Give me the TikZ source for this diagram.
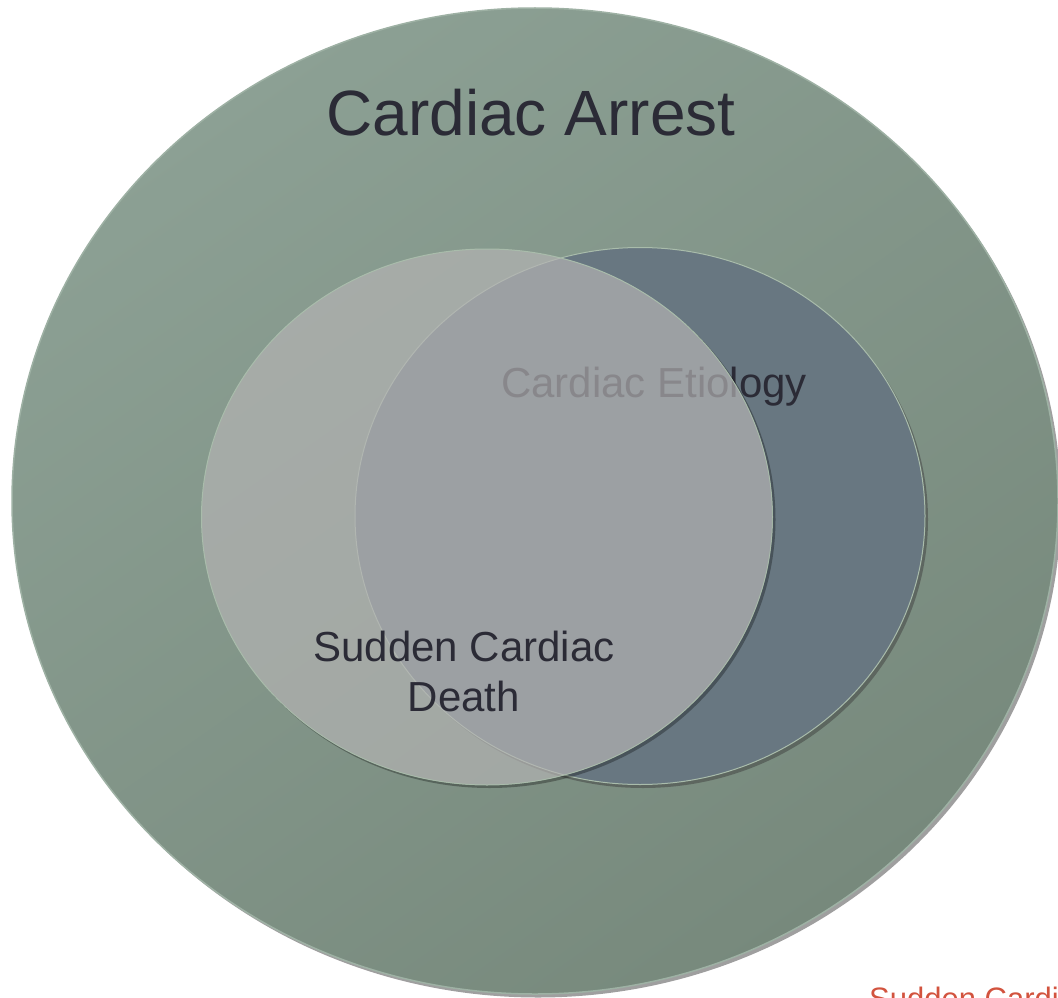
\documentclass[tikz,border=0pt]{standalone}
\usepackage{fontspec}
\setmainfont{Liberation Sans}
\usepackage{tikz}
\usetikzlibrary{shapes.geometric,shadows,positioning}

\definecolor{arrestlight}{HTML}{8CA094}
\definecolor{arrestdark}{HTML}{77897C}
\definecolor{arrestrim}{HTML}{9EB1A4}
\definecolor{etiologyfill}{HTML}{687781}
\definecolor{suddenfill}{HTML}{B5B4B4}
\definecolor{ringrim}{HTML}{A9BCAB}
\definecolor{textdark}{HTML}{2B2B36}
\definecolor{notered}{HTML}{D2533E}

\begin{document}
\begin{tikzpicture}[x=1pt,y=1pt,
  ring node/.style={ellipse,inner sep=0pt,draw=ringrim,line width=1pt},
  ring shadow/.style={drop shadow={shadow xshift=3pt,shadow yshift=-3.5pt,
                      fill=black!75,opacity=0.5}},
  big text/.style={font=\fontsize{64}{72}\selectfont,text=textdark,inner sep=0pt},
  label text/.style={font=\fontsize{42}{50}\selectfont,text=textdark,inner sep=0pt}]

  \clip (0,0) rectangle (1058,-998);

  % outer set
  \node[ring node,draw=arrestrim,line width=1.5pt,ring shadow,
        top color=arrestlight,bottom color=arrestdark,shading angle=35,
        minimum width=1046pt,minimum height=986pt] (arrest) at (535,-501) {};
  \node[big text,anchor=base] (arrestlabel) at (531,-135) {Cardiac Arrest};

  % right set, under the light one
  \node[ring node,fill=etiologyfill,ring shadow,
        minimum width=570pt,minimum height=537pt] (etiology) at (640,-516) {};
  \node[label text,anchor=base] (etiologylabel) at (654,-397) {Cardiac Etiology};

  % left set, see-through
  \node[ring node,fill=suddenfill,fill opacity=0.68,
        minimum width=571pt,minimum height=536pt] (sudden) at (487,-517) {};
  \begin{scope}[even odd rule]
    \clip (0,0) rectangle (1058,-998)
      (487,-517) ellipse [x radius=286,y radius=268.5];
    \fill[black,opacity=0.3] (489.5,-519.5) ellipse [x radius=286,y radius=268.5];
  \end{scope}
  \node[label text,align=center,anchor=north] (suddenlabel) at (464,-631)
    {Sudden Cardiac\\Death};

  \node[font=\fontsize{31}{37}\selectfont,text=notered,inner sep=0pt,
        anchor=base west] (note) at (869,-1009) {Sudden Cardiac Death};

\end{tikzpicture}
\end{document}
